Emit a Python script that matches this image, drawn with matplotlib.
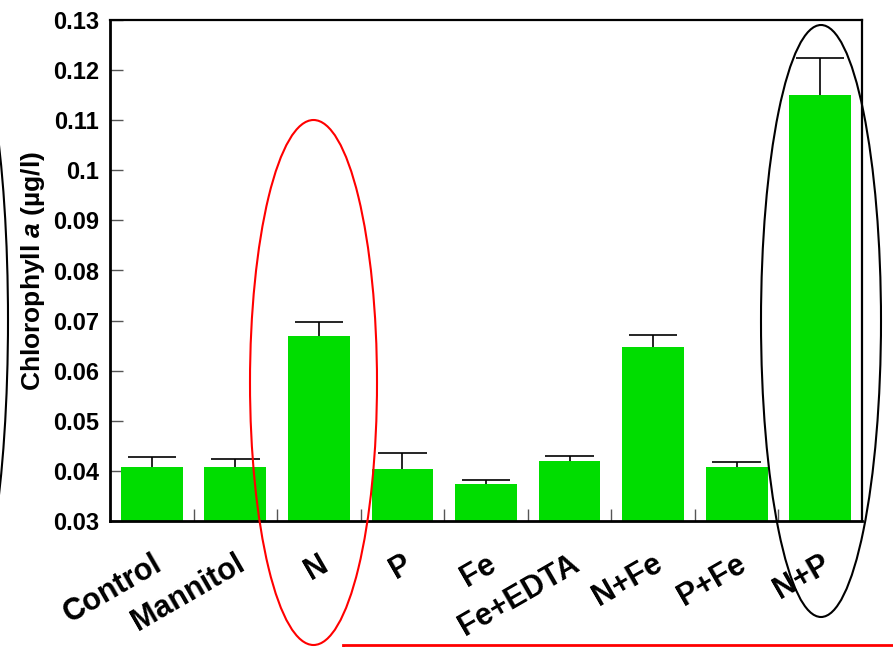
import numpy as np
import matplotlib
matplotlib.use("Agg")
import matplotlib.pyplot as plt
from matplotlib.patches import Ellipse, Rectangle
from matplotlib.transforms import IdentityTransform

plt.rcParams['font.family'] = ['Liberation Sans', 'DejaVu Sans']
plt.rcParams['mathtext.fontset'] = 'custom'
plt.rcParams['mathtext.it'] = 'Liberation Sans:bold:italic'

# data
treatments = ["Control", "Mannitol", "N", "P", "Fe", "Fe+EDTA", "N+Fe", "P+Fe", "N+P"]
chl_mean = [0.0408, 0.0408, 0.0669, 0.0404, 0.0374, 0.0420, 0.0647, 0.0408, 0.1151]
chl_err = [0.0019, 0.0016, 0.0028, 0.0032, 0.0008, 0.0010, 0.0024, 0.0010, 0.0073]
yticks = [0.03, 0.04, 0.05, 0.06, 0.07, 0.08, 0.09, 0.1, 0.11, 0.12, 0.13]

W, H = 893, 647
fig = plt.figure(figsize=(W / 100, H / 100), dpi=100)
ax = fig.add_axes([110 / W, 1 - 521 / H, (862 - 110) / W, (521 - 20) / H])

x = np.arange(len(treatments))
mean = np.array(chl_mean)
top = mean + np.array(chl_err)

ax.bar(x, mean - 0.03, bottom=0.03, width=0.74, color="#00dd00", zorder=2)
ax.vlines(x, mean, top, color="black", lw=1.2, zorder=3)
ax.hlines(top, x - 0.29, x + 0.29, color="black", lw=1.2, zorder=3)

ax.set_xlim(-0.5, len(treatments) - 0.5)
ax.set_ylim(0.03, 0.13)
ax.set_yticks(yticks)
ax.set_yticklabels([f"{v:g}" for v in yticks], fontsize=17, fontweight="bold")
ax.set_xticks(x)
ax.set_xticklabels(treatments, rotation=30, ha="right", rotation_mode="anchor",
                   fontsize=22, fontweight="bold")
ax.set_xticks(x[:-1] + 0.5, minor=True)
ax.tick_params(axis="x", which="major", length=0, pad=20)
ax.tick_params(axis="x", which="minor", direction="in", length=9, width=1, color="#555555")
ax.tick_params(axis="y", direction="in", length=9, width=1, color="#555555", pad=8)
for s in ["left", "bottom"]:
    ax.spines[s].set_linewidth(2)
for s in ["top", "right"]:
    ax.spines[s].set_linewidth(1.6)

ax.set_ylabel("Chlorophyll $\\mathit{a}$ (\u00b5g/l)", fontsize=19, fontweight="bold", labelpad=4)

# highlight ellipses and box drawn in pixel coordinates
px = IdentityTransform()
fig.add_artist(Ellipse((313.5, H - 382.5), 127, 525, fill=False, ec="red", lw=1.5, transform=px))
fig.add_artist(Ellipse((821, H - 321), 120, 592, fill=False, ec="black", lw=1.5, transform=px))
fig.add_artist(Ellipse((-40, H - 320), 96, 600, fill=False, ec="black", lw=1.5, transform=px))
fig.add_artist(Rectangle((343, -20), 600, 22, fill=False, ec="red", lw=2, transform=px))

fig.savefig("out.png", dpi=100)
